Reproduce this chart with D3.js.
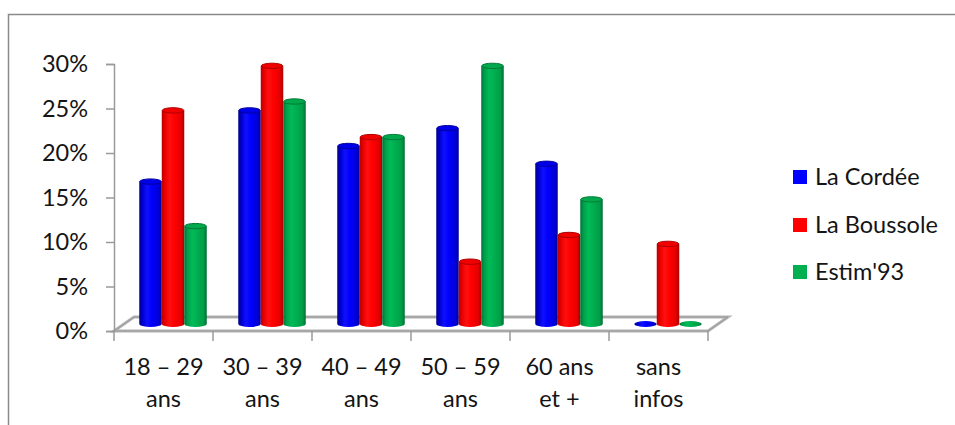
<!DOCTYPE html>
<html><head><meta charset="utf-8">
<script src="https://cdn.jsdelivr.net/npm/d3@7"></script>
<style>body{margin:0;background:#fff;} svg{display:block;}</style>
</head><body><svg id="c" width="955" height="425"></svg>
<script>
const categories = ["18 – 29 ans","30 – 39 ans","40 – 49 ans","50 – 59 ans","60 ans et +","sans infos"];
const categoryLines = [["18 – 29","ans"],["30 – 39","ans"],["40 – 49","ans"],["50 – 59","ans"],["60 ans","et +"],["sans","infos"]];
const seriesNames = ["La Cordée","La Boussole","Estim'93"];
const laCordee   = [16,24,20,22,18,0];
const laBoussole = [24,29,21,7,10,9];
const estim93    = [11,25,21,29,14,0];
const yTicks = [0,5,10,15,20,25,30];

const seriesValues = [laCordee, laBoussole, estim93];
const palette = [
  {stops:["#00008a","#0000d0","#1010ff","#0000ff","#0000d8","#00009a"], top:"#0000e8", rim:"#0000a0", legend:"#0000ff"},
  {stops:["#b80000","#ea0000","#ff1010","#ff0000","#e60000","#a80000"], top:"#f00000", rim:"#b00000", legend:"#ff0000"},
  {stops:["#00743a","#00a04a","#00bb58","#00b050","#009e48","#006e34"], top:"#00a84c", rim:"#007a38", legend:"#00b050"}
];
const FONT = "Lato, 'Open Sans', sans-serif";
const FS = 23.5;
const TXT = "#141414";

const svg = d3.select("#c");
const defs = svg.append("defs");
palette.forEach((p,i)=>{
  const g = defs.append("linearGradient").attr("id","g"+i).attr("x1","0").attr("x2","1").attr("y1","0").attr("y2","0");
  const offs=[0,0.15,0.35,0.55,0.85,1];
  p.stops.forEach((c,k)=>g.append("stop").attr("offset",offs[k]).attr("stop-color",c));
});

// frame
svg.append("path").attr("d","M8.5,425V14.5H955").attr("fill","none").attr("stroke","#8a8a8a").attr("stroke-width",1.5);

const x = d3.scaleBand().domain(categories).range([114,708]).padding(0);
const y = d3.scaleLinear().domain([0,30]).range([331,64]);
const DX = 20, DY = -14;

// floor
const y0 = y(0);
const floorPts = [[114,y0],[708,y0],[708+DX,y0+DY],[114+DX,y0+DY]];
svg.append("polygon").attr("points",floorPts.map(p=>p.join(",")).join(" "))
  .attr("fill","#fff").attr("stroke","#b4b4b4").attr("stroke-width",3).attr("stroke-linejoin","miter");
svg.append("polygon").attr("points",floorPts.map(p=>p.join(",")).join(" "))
  .attr("fill","none").attr("stroke","#9a9a9a").attr("stroke-width",1);

// y axis
const yAxis = d3.axisLeft(y).tickValues(yTicks).tickSize(8).tickPadding(18).tickFormat(d=>d+"%");
const ya = svg.append("g").attr("transform","translate(114,0)").call(yAxis);
ya.select(".domain").attr("stroke","#9a9a9a").attr("stroke-width",1.5);
ya.selectAll(".tick line").attr("stroke","#9a9a9a").attr("stroke-width",1.5);
ya.selectAll(".tick text").attr("font-family",FONT).attr("font-size",FS).attr("fill",TXT);

// x ticks
const edges = categories.map(c=>x(c)).concat([x.range()[1]]);
svg.append("g").selectAll("line").data(edges).join("line")
  .attr("x1",d=>d).attr("x2",d=>d).attr("y1",y0).attr("y2",y0+10)
  .attr("stroke","#9a9a9a").attr("stroke-width",1.5);

// x labels
const lab = svg.append("g").selectAll("text").data(categories).join("text")
  .attr("x",d=>x(d)+x.bandwidth()/2).attr("y",375)
  .attr("text-anchor","middle").attr("font-family",FONT).attr("font-size",FS).attr("fill",TXT);
lab.each(function(d,i){
  const t=d3.select(this);
  categoryLines[i].forEach((s,k)=>t.append("tspan").attr("x",x(d)+x.bandwidth()/2).attr("y",375+32*k).text(s));
});

// bars
const bw = 22.5, rx = bw/2, ry = 3;
const barsG = svg.append("g");
categories.forEach((c,ci)=>{
  const gx = x(c) + (x.bandwidth()-3*bw)/2 + DX/2 - 0.5;
  seriesValues.forEach((vals,si)=>{
    const v = vals[ci];
    const left = gx + si*bw, right = left+bw, cx = left+rx;
    const base = y(0)+DY/2, top = y(v)+DY/2;
    if (v<=0){
      barsG.append("ellipse").attr("cx",cx).attr("cy",base).attr("rx",rx).attr("ry",ry)
        .attr("fill","url(#g"+si+")");
      return;
    }
    barsG.append("path")
      .attr("d",`M${left},${top}L${left},${base}A${rx},${ry} 0 0 0 ${right},${base}L${right},${top}Z`)
      .attr("fill","url(#g"+si+")");
    barsG.append("ellipse").attr("cx",cx).attr("cy",top).attr("rx",rx-0.5).attr("ry",ry-0.3)
      .attr("fill",palette[si].top).attr("stroke",palette[si].rim).attr("stroke-width",1);
  });
});

// legend
const legY = [177,225,272];
const leg = svg.append("g").selectAll("g").data(seriesNames).join("g")
  .attr("transform",(d,i)=>`translate(793,${legY[i]})`);
leg.append("rect").attr("x",0).attr("y",-7).attr("width",14).attr("height",14).attr("fill",(d,i)=>palette[i].legend);
leg.append("text").attr("x",22).attr("y",0).attr("dy","0.36em").attr("font-family",FONT).attr("font-size",FS).attr("fill",TXT).text(d=>d);
</script></body></html>
